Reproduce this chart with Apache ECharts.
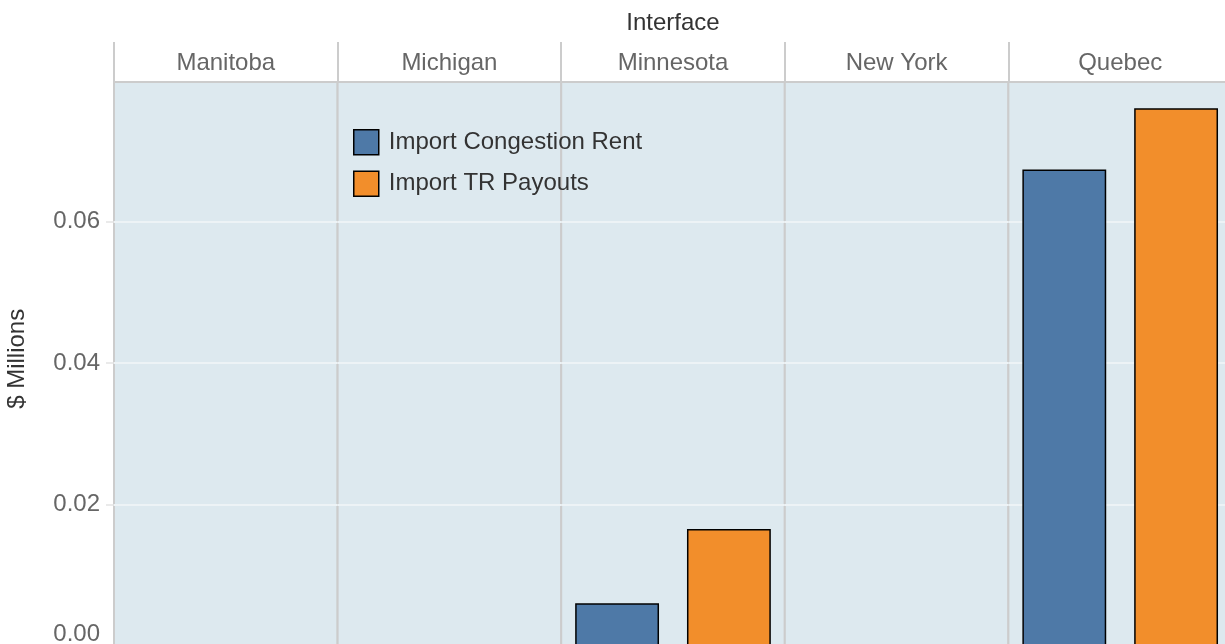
<!DOCTYPE html>
<html>
<head>
<meta charset="utf-8">
<script src="https://cdn.jsdelivr.net/npm/echarts@6/dist/echarts.min.js"></script>
<style>
  html, body { margin: 0; padding: 0; background: #fff; }
  #chart { width: 1225px; height: 644px; }
</style>
</head>
<body>
<div id="chart"></div>
<script>
// data
const facets = ['Manitoba', 'Michigan', 'Minnesota', 'New York', 'Quebec'];
const seriesNames = ['Import Congestion Rent', 'Import TR Payouts'];
const congestionRent = [0, 0, 0.0060, 0, 0.0674];
const trPayouts = [0, 0, 0.0165, 0, 0.0761];
const yMax = 0.0798;
const yStep = 0.02;

const colors = ['#4e79a7', '#f28e2b'];
const panelLeft = 114, panelW = 223.6, panelTop = 82, panelH = 563.6;
const font = 'Liberation Sans, Arial, sans-serif';
const fs = 24;

let myChart = echarts.init(document.getElementById('chart'));

let grids = [], xAxes = [], yAxes = [], series = [];
facets.forEach((f, i) => {
  grids.push({
    left: panelLeft + panelW * i, top: panelTop, width: panelW, height: panelH,
    outerBoundsMode: 'none', containLabel: false,
    show: true, backgroundColor: '#dde9ef', borderColor: '#cccccc', borderWidth: 2
  });
  // bottom axis (cut off in the picture)
  xAxes.push({
    type: 'category', gridIndex: i, data: seriesNames, show: false
  });
  // top axis = facet strip
  xAxes.push({
    type: 'category', gridIndex: i, position: 'top', data: [f], z: 5,
    axisLine: { lineStyle: { color: '#cccccc', width: 2 } },
    axisTick: { show: true, length: 40, lineStyle: { color: '#cccccc', width: 2 } },
    axisLabel: { margin: 7, fontSize: fs, color: '#666666', fontFamily: font }
  });
  yAxes.push({
    type: 'value', gridIndex: i, min: 0, max: yMax, interval: yStep,
    axisLine: { show: false },
    axisTick: { show: i === 0, length: 8, lineStyle: { color: '#e3e3e3', width: 1.5 } },
    splitLine: { lineStyle: { color: '#edf3f6', width: 2 } },
    axisLabel: {
      show: i === 0, margin: 14, fontSize: fs, color: '#666666', fontFamily: font,
      showMaxLabel: false,
      formatter: v => {
        if (Math.abs(v / yStep - Math.round(v / yStep)) > 1e-6) return '';
        return v === 0 ? '{lo|0.00}' : v.toFixed(2);
      },
      rich: { lo: { fontSize: fs, color: '#666666', fontFamily: font, padding: [0, 0, 23, 0] } }
    },
    name: i === 0 ? '$ Millions' : '',
    nameLocation: 'middle', nameRotate: 90, nameGap: 85,
    nameTextStyle: { fontSize: fs, color: '#333333', fontFamily: font, padding: [0, 0, 0, 10] }
  });
  series.push({
    name: seriesNames[0], type: 'bar', xAxisIndex: 2 * i, yAxisIndex: i,
    barWidth: '75%', barGap: '-100%',
    itemStyle: { color: colors[0], borderColor: '#000', borderWidth: 1.5 },
    data: [congestionRent[i], null]
  });
  series.push({
    name: seriesNames[1], type: 'bar', xAxisIndex: 2 * i, yAxisIndex: i,
    barWidth: '75%', barGap: '-100%',
    itemStyle: { color: colors[1], borderColor: '#000', borderWidth: 1.5 },
    data: [null, trPayouts[i]]
  });
});

myChart.setOption({
  animation: false,
  title: {
    text: 'Interface', left: panelLeft + panelW * 2.5 - 5, top: 6, textAlign: 'center',
    textStyle: { fontSize: fs, fontWeight: 'normal', color: '#333333', fontFamily: font }
  },
  legend: {
    data: seriesNames, orient: 'vertical', left: 353, top: 129, padding: 0,
    icon: 'rect', itemWidth: 25, itemHeight: 25, itemGap: 15,
    itemStyle: { borderColor: '#000', borderWidth: 1.5 },
    textStyle: { fontSize: fs, color: '#333333', fontFamily: font, padding: [0, 0, 0, 5] }
  },
  grid: grids,
  xAxis: xAxes,
  yAxis: yAxes,
  series: series
});
</script>
</body>
</html>
